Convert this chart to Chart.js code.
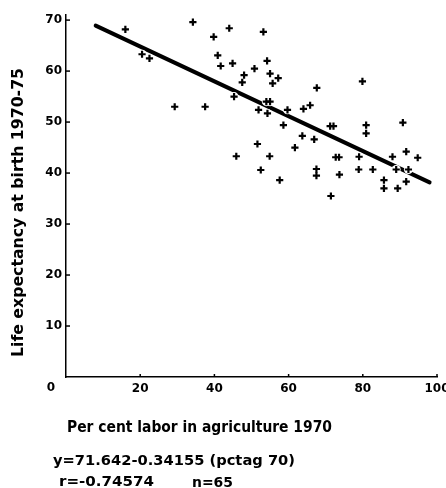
<!DOCTYPE html>
<html>
<head>
<meta charset="utf-8">
<title>Life expectancy vs labor in agriculture</title>
<script src="https://cdn.jsdelivr.net/npm/chart.js@4"></script>
<style>
  html, body { margin: 0; padding: 0; background: #fff; }
  canvas { display: block; }
</style>
</head>
<body>
<canvas id="scatter" width="446" height="488"></canvas>
<script>
// per cent labor in agriculture 1970 / life expectancy at birth 1970-75
const pctAg = [
  16.0, 20.5, 22.5, 29.3, 37.5, 34.2, 39.8, 40.9, 41.7, 44.0,
  44.9, 53.2, 54.2, 50.8, 48.0, 47.5, 55.0, 55.7, 57.2, 45.3,
  51.9, 54.0, 55.0, 54.3, 59.7, 58.6, 67.6, 64.0, 65.8, 63.7,
  61.7, 66.9, 51.6, 45.9, 54.9, 52.5, 57.6, 67.5, 67.5, 71.2,
  72.1, 72.7, 73.6, 73.7, 71.4, 79.9, 80.9, 80.9, 79.0, 78.9,
  82.7, 88.0, 89.0, 90.8, 91.7, 94.8, 92.3, 85.7, 85.7, 89.4,
  91.7
];
const lifeExp = [
  68.2, 63.3, 62.5, 53.0, 53.0, 69.6, 66.7, 63.1, 61.0, 68.4,
  61.5, 67.7, 62.0, 60.5, 59.2, 57.8, 59.5, 57.6, 58.6, 55.0,
  52.4, 54.0, 54.0, 51.7, 52.4, 49.4, 56.7, 52.6, 53.3, 47.3,
  45.0, 46.6, 45.7, 43.3, 43.3, 40.6, 38.6, 40.8, 39.5, 49.2,
  49.2, 43.1, 43.1, 39.7, 35.5, 58.0, 49.4, 47.8, 43.2, 40.7,
  40.7, 43.2, 40.7, 49.9, 44.2, 43.0, 40.7, 38.6, 37.0, 37.0,
  38.3
];

// fitted line y = a + b * x, drawn over this x range
const fitCoef = [71.642, -0.34155];
const fitRange = [8, 98];

const xTicks = [0, 20, 40, 60, 80, 100];
const yTicks = [0, 10, 20, 30, 40, 50, 60, 70];

const points = pctAg.map((x, i) => ({ x: x, y: lifeExp[i] }));
const fitLine = fitRange.map(x => ({ x: x, y: fitCoef[0] + fitCoef[1] * x }));

const FONT = '"DejaVu Sans", sans-serif';

// draw text squeezed/stretched to a given width
function fitText(ctx, str, x, y, size, width) {
  ctx.font = 'bold ' + size + 'px ' + FONT;
  const w = ctx.measureText(str).width;
  ctx.save();
  ctx.translate(x, y);
  ctx.scale(width / w, 1);
  ctx.textAlign = 'left';
  ctx.textBaseline = 'alphabetic';
  ctx.fillText(str, 0, 0);
  ctx.restore();
}

const decorations = {
  id: 'decorations',
  afterDraw(chart) {
    const ctx = chart.ctx;
    const xs = chart.scales.x;
    const ys = chart.scales.y;
    const area = chart.chartArea;
    ctx.save();
    ctx.strokeStyle = '#000';
    ctx.fillStyle = '#000';
    ctx.lineWidth = 1.5;

    // tick marks point into the plot
    yTicks.forEach(v => {
      if (v === 0) return;
      const py = ys.getPixelForValue(v);
      ctx.beginPath();
      ctx.moveTo(area.left, py);
      ctx.lineTo(area.left + 4, py);
      ctx.stroke();
    });
    xTicks.forEach(v => {
      if (v === 0) return;
      const px = xs.getPixelForValue(v);
      ctx.beginPath();
      ctx.moveTo(px, area.bottom);
      ctx.lineTo(px, area.bottom - 3);
      ctx.stroke();
    });

    // shared origin label
    ctx.font = 'bold 12px ' + FONT;
    ctx.textAlign = 'center';
    ctx.textBaseline = 'middle';
    ctx.fillText('0', xs.getPixelForValue(0) - 15, area.bottom + 11);

    // axis titles
    ctx.save();
    ctx.translate(23, 357);
    ctx.rotate(-Math.PI / 2);
    fitText(ctx, 'Life expectancy at birth 1970-75', 0, 0, 15, 289);
    ctx.restore();

    fitText(ctx, 'Per cent labor in agriculture 1970', 67, 432, 16, 265);

    // regression summary
    fitText(ctx, 'y=71.642-0.34155 (pctag 70)', 53, 465, 14, 242);
    fitText(ctx, 'r=-0.74574', 59, 486, 14, 95);
    fitText(ctx, 'n=65', 192, 487, 14, 41);
    ctx.restore();
  }
};

new Chart(document.getElementById('scatter'), {
  type: 'scatter',
  data: {
    datasets: [
      {
        label: 'countries',
        data: points,
        pointStyle: 'cross',
        pointRadius: 3.6,
        pointBorderWidth: 2.2,
        borderColor: '#000',
        backgroundColor: '#000',
        order: 0
      },
      {
        label: 'halo',
        data: points,
        pointStyle: 'circle',
        pointRadius: 4.5,
        pointBorderWidth: 0,
        borderColor: '#fff',
        backgroundColor: '#fff',
        order: 1
      },
      {
        type: 'line',
        label: 'fit',
        data: fitLine,
        borderColor: '#000',
        borderWidth: 4,
        borderCapStyle: 'round',
        pointRadius: 0,
        fill: false,
        order: 2
      }
    ]
  },
  options: {
    responsive: false,
    animation: false,
    events: [],
    layout: { padding: { left: 0, top: 15, right: 9, bottom: 0 } },
    plugins: {
      legend: { display: false },
      tooltip: { enabled: false }
    },
    scales: {
      x: {
        type: 'linear',
        min: 0,
        max: 100,
        afterBuildTicks(scale) {
          scale.ticks = xTicks.map(v => ({ value: v }));
        },
        afterFit(scale) {
          scale.height = 111;
          scale.paddingLeft = 0;
          scale.paddingRight = 0;
        },
        grid: { display: true, drawOnChartArea: false, drawTicks: false },
        border: { display: true, color: '#000', width: 1.5 },
        ticks: {
          color: '#000',
          padding: 5,
          maxRotation: 0,
          font: { family: FONT, size: 12, weight: 'bold' },
          callback: v => (v === 0 ? '' : String(v))
        }
      },
      y: {
        type: 'linear',
        min: 0,
        max: 71,
        afterBuildTicks(scale) {
          scale.ticks = yTicks.map(v => ({ value: v }));
        },
        afterFit(scale) {
          scale.width = 66;
        },
        grid: { display: true, drawOnChartArea: false, drawTicks: false },
        border: { display: true, color: '#000', width: 1.5 },
        ticks: {
          color: '#000',
          padding: 4,
          font: { family: FONT, size: 12, weight: 'bold' },
          callback: v => (v === 0 ? '' : String(v))
        }
      }
    }
  },
  plugins: [decorations]
});
</script>
</body>
</html>
